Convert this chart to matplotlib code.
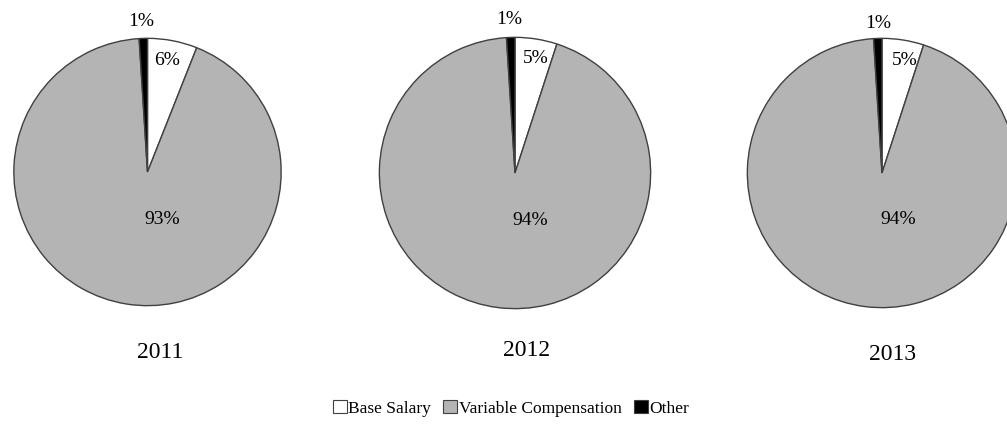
import matplotlib
matplotlib.use("Agg")
import matplotlib.pyplot as plt
from matplotlib.patches import Patch

years = ["2011", "2012", "2013"]
categories = ["Base Salary", "Variable Compensation", "Other"]
base_salary = [6, 5, 5]
variable_comp = [93, 94, 94]
other = [1, 1, 1]
colors = ["#ffffff", "#b4b4b4", "#000000"]

plt.rcParams['font.family'] = ['Liberation Serif', 'DejaVu Serif']

W, H = 1007, 431
fig = plt.figure(figsize=(W / 100, H / 100), dpi=100)

# pie centres (px, from top) and radii
centers = [(147.5, 173), (515, 174), (882, 174)]
radii = [135, 137, 136]
# label offsets in radius units: (outer 1%), (small wedge), (big wedge)
lab_other = [(-0.05, 1.13), (-0.04, 1.14), (-0.03, 1.12)]
lab_base = [(0.15, 0.84), (0.15, 0.85), (0.17, 0.84)]
lab_var = [(0.11, -0.35), (0.11, -0.34), (0.12, -0.34)]
year_pos = [(160, 353), (527, 350), (893, 355)]

for i, yr in enumerate(years):
    cx, cy = centers[i]
    r = radii[i]
    ax = fig.add_axes([(cx - r) / W, 1 - (cy + r) / H, 2 * r / W, 2 * r / H])
    vals = [base_salary[i], variable_comp[i], other[i]]
    ax.pie(vals, colors=colors, startangle=90, counterclock=False, radius=1,
           wedgeprops=dict(edgecolor="#404040", linewidth=1.0))
    ax.set_xlim(-1.01, 1.01)
    ax.set_ylim(-1.01, 1.01)
    ax.set_aspect('auto')
    ax.axis('off')
    ax.text(*lab_other[i], f"{other[i]}%", ha='center', va='center', fontsize=14, clip_on=False)
    ax.text(*lab_base[i], f"{base_salary[i]}%", ha='center', va='center', fontsize=14)
    ax.text(*lab_var[i], f"{variable_comp[i]}%", ha='center', va='center', fontsize=14)
    fig.text(year_pos[i][0] / W, 1 - year_pos[i][1] / H, yr, ha='center', va='center', fontsize=17)

handles = [Patch(facecolor=c, edgecolor="#404040", linewidth=0.8) for c in colors]
fig.legend(handles, categories, loc='center', bbox_to_anchor=(511 / W, 1 - 409 / H),
           ncol=3, frameon=False, fontsize=12.5, handlelength=0.8, handleheight=0.8,
           handletextpad=0.1, columnspacing=0.7)

fig.savefig("out.png", dpi=100)
